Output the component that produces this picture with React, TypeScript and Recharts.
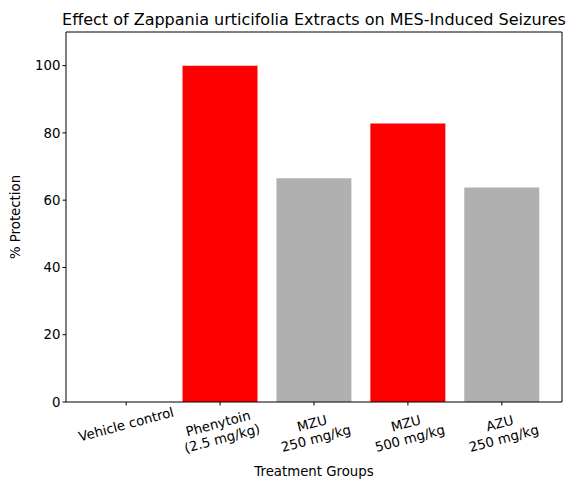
import { BarChart, Bar, XAxis, YAxis, Cell } from 'recharts';

const groups = ['Vehicle control', 'Phenytoin\n(2.5 mg/kg)', 'MZU\n250 mg/kg', 'MZU\n500 mg/kg', 'AZU\n250 mg/kg'];
const protection = [0, 100, 66.5, 82.8, 63.8];
const barColors = ['#b0b0b0', '#ff0000', '#b0b0b0', '#ff0000', '#b0b0b0'];
const yTicks = [0, 20, 40, 60, 80, 100];

const data = groups.map((g, i) => ({ name: g, value: protection[i] }));

const FONT = 'DejaVu Sans, sans-serif';

function GroupTick({ x, y, payload }: any) {
  const lines: string[] = String(payload.value).split('\n');
  const cy = lines.length > 1 ? 23.5 : 17;
  return (
    <g transform={`translate(${x},${y + cy})`}>
      <text transform="rotate(-15)" textAnchor="middle" fontSize={13.3} fontFamily={FONT} fill="#000">
        {lines.map((l, i) => (
          <tspan key={i} x={0} y={(i - (lines.length - 1) / 2) * 15.5} dominantBaseline="central">
            {l}
          </tspan>
        ))}
      </text>
    </g>
  );
}

export default function App() {
  return (
    <div style={{ position: 'fixed', left: 0, top: 0, width: 584, height: 491, background: '#fff' }}>
      <BarChart
        width={584}
        height={491}
        data={data}
        margin={{ top: 31, right: 21, left: 10, bottom: 0 }}
        barCategoryGap="10%"
      >
        <XAxis
          dataKey="name"
          interval={0}
          padding={{ left: 13.2, right: 13.2 }}
          stroke="#000"
          tickSize={3.5}
          tick={<GroupTick />}
          height={89}
        />
        <XAxis xAxisId="top" orientation="top" dataKey="name" tick={false} tickLine={false} stroke="#000" height={1} />
        <YAxis
          domain={[0, 110]}
          ticks={yTicks}
          width={56}
          stroke="#000"
          tickSize={3.5}
          tick={{ fill: '#000', fontSize: 13.3, fontFamily: FONT }}
        />
        <YAxis yAxisId="right" orientation="right" domain={[0, 110]} tick={false} tickLine={false} stroke="#000" width={1} />
        <Bar dataKey="value" isAnimationActive={false}>
          {data.map((d, i) => (
            <Cell key={d.name} fill={barColors[i]} />
          ))}
        </Bar>
        <text x={314} y={25} textAnchor="middle" fontSize={16} fontFamily={FONT} fill="#000">
          Effect of Zappania urticifolia Extracts on MES-Induced Seizures
        </text>
        <text x={314} y={476} textAnchor="middle" fontSize={13.3} fontFamily={FONT} fill="#000">
          Treatment Groups
        </text>
        <text
          x={15}
          y={217}
          transform="rotate(-90 15 217)"
          textAnchor="middle"
          dominantBaseline="central"
          fontSize={13.3}
          fontFamily={FONT}
          fill="#000"
        >
          % Protection
        </text>
      </BarChart>
    </div>
  );
}
